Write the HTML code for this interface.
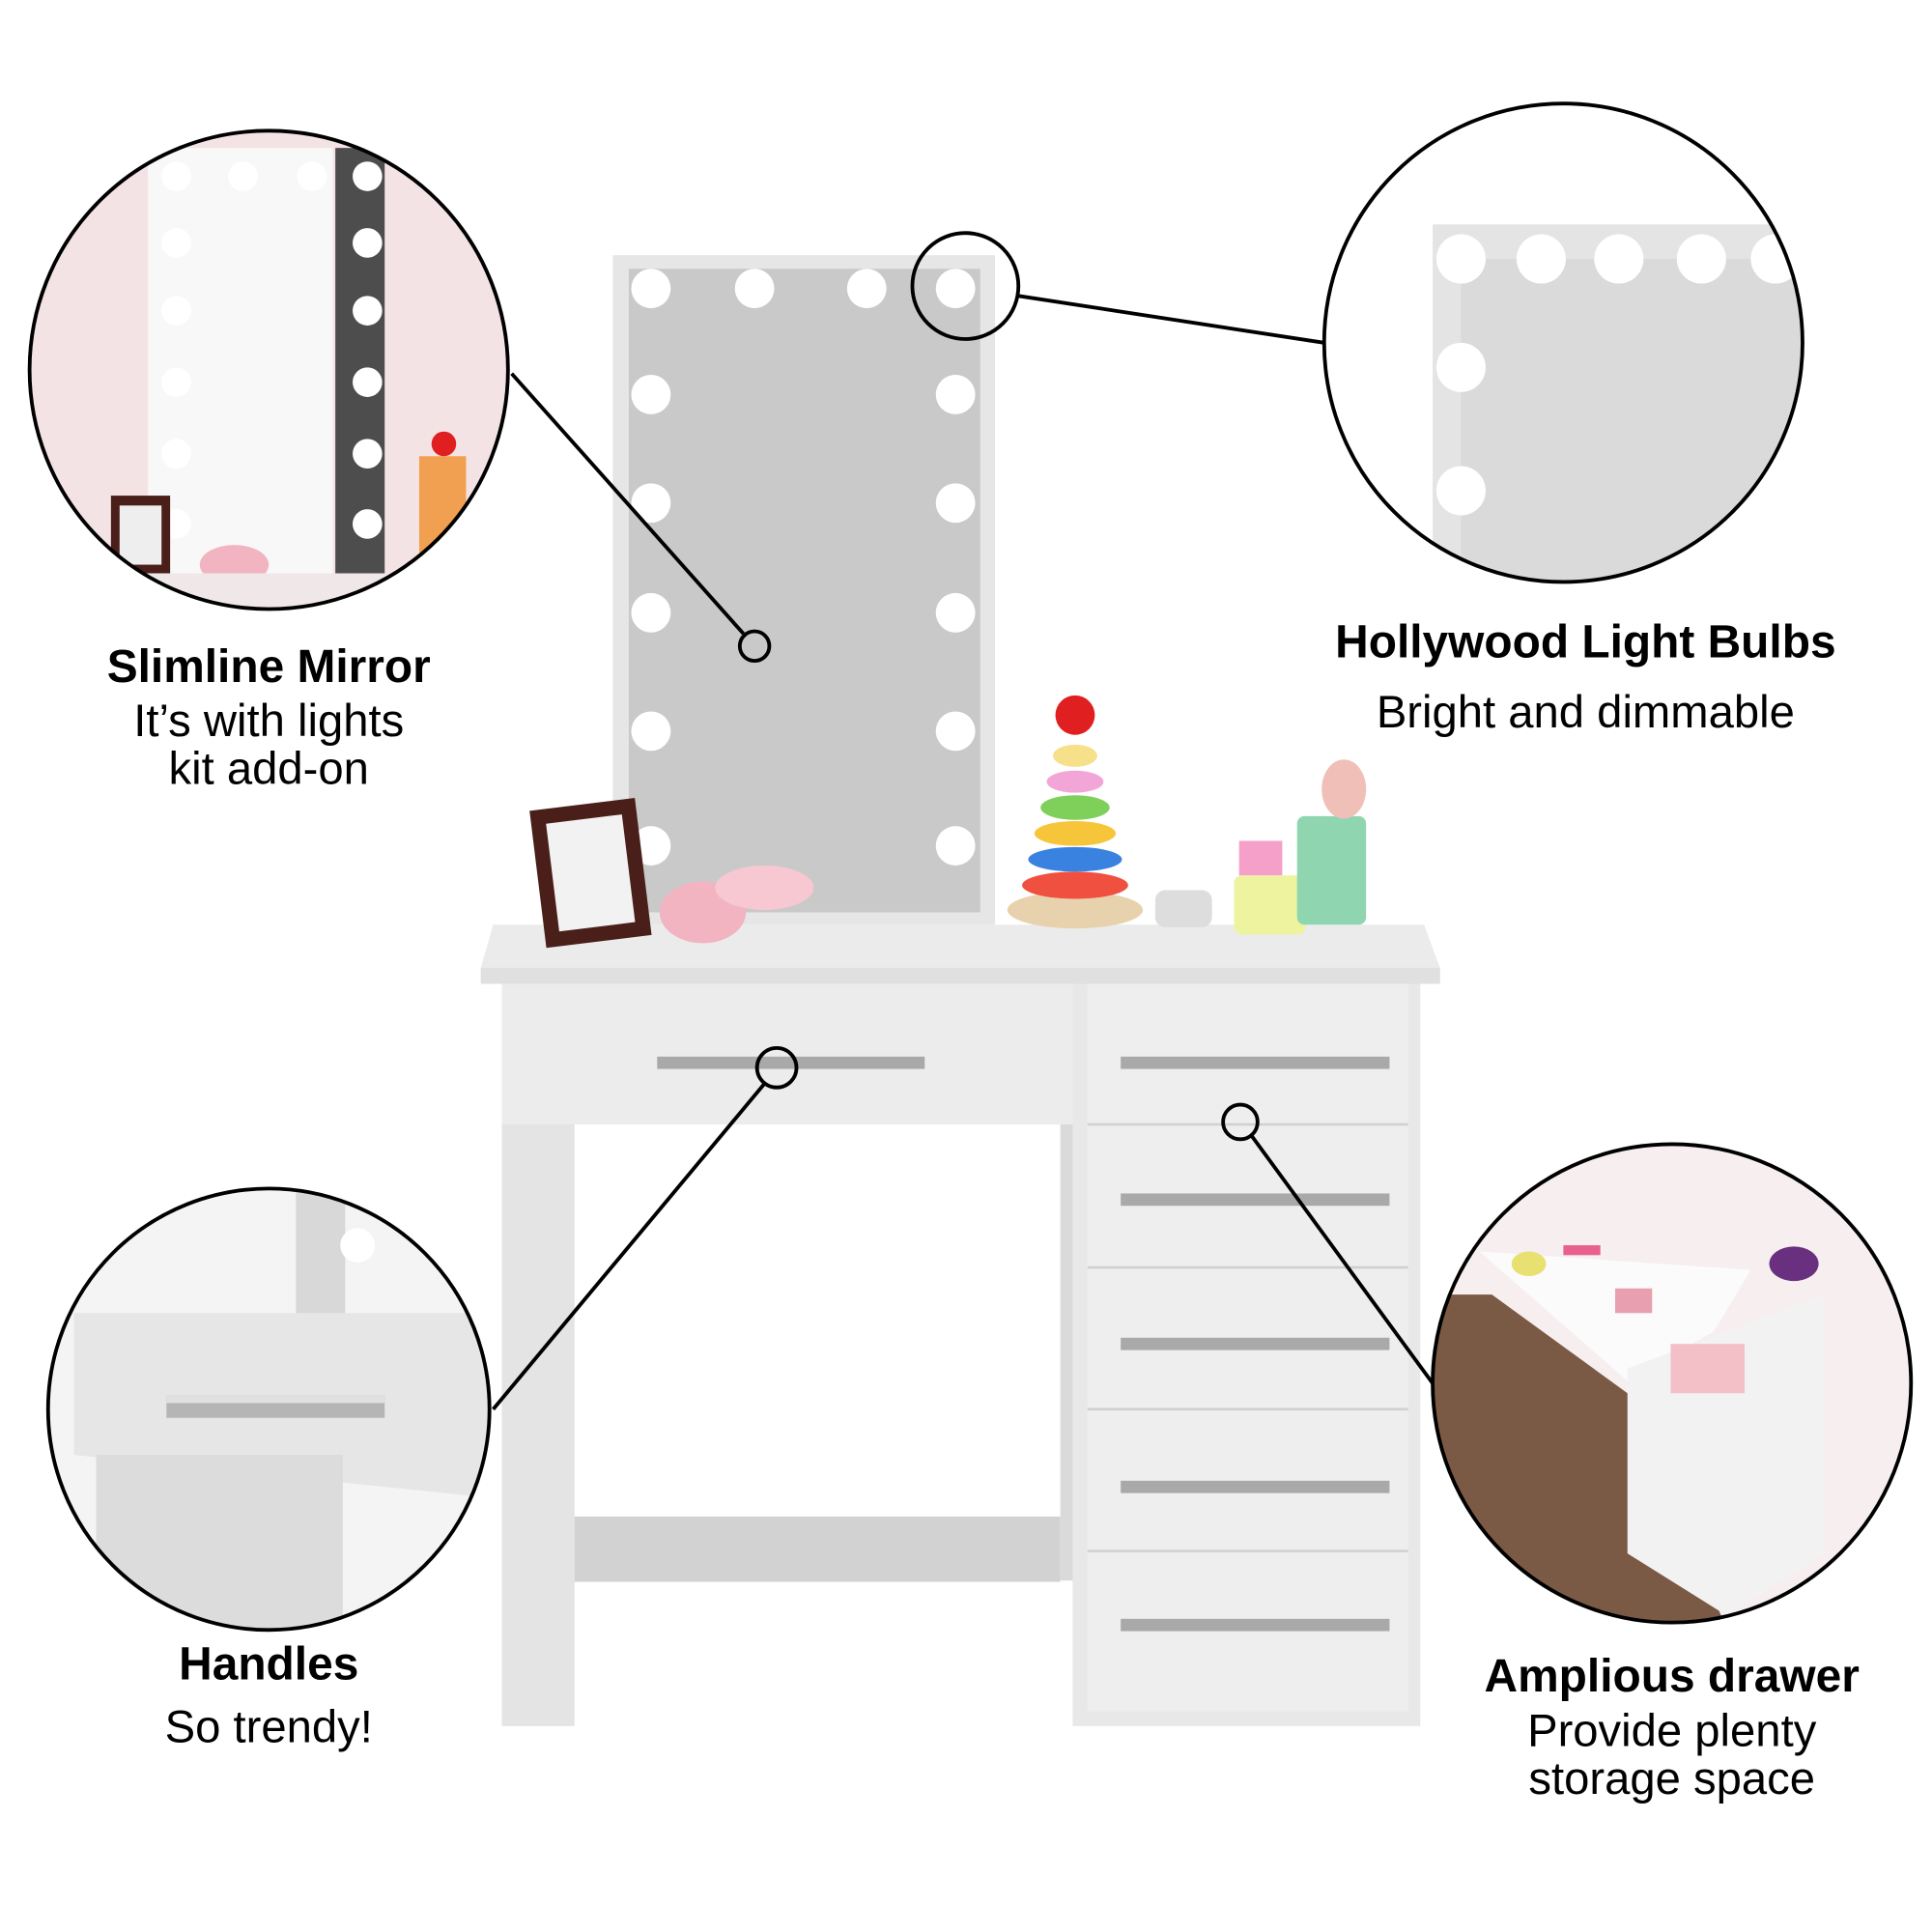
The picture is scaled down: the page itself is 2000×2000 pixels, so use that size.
<!DOCTYPE html>
<html><head><meta charset="utf-8"><style>
html,body{margin:0;padding:0;background:#fff;}
svg{display:block;}
text{font-family:"Liberation Sans",Arial,sans-serif;fill:#000;text-anchor:middle;}
</style></head><body>
<svg width="2000" height="2000" viewBox="0 0 1567 1567" xmlns="http://www.w3.org/2000/svg">
<defs>
<clipPath id="c1"><circle cx="218" cy="300" r="194"/></clipPath>
<clipPath id="c2"><circle cx="1268" cy="278" r="194"/></clipPath>
<clipPath id="c3"><circle cx="218" cy="1143" r="179"/></clipPath>
<clipPath id="c4"><circle cx="1356" cy="1122" r="194"/></clipPath>
</defs>
<rect width="1567" height="1567" fill="#fff"/>
<!-- mirror -->
<rect x="497" y="207" width="310" height="543" fill="#e6e6e6"/>
<rect x="510" y="218" width="285" height="522" fill="#c9c9c9"/>
<g fill="#fff">
<circle cx="528" cy="234" r="16"/><circle cx="612" cy="234" r="16"/><circle cx="703" cy="234" r="16"/><circle cx="775" cy="234" r="16"/>
<circle cx="528" cy="320" r="16"/><circle cx="775" cy="320" r="16"/>
<circle cx="528" cy="408" r="16"/><circle cx="775" cy="408" r="16"/>
<circle cx="528" cy="497" r="16"/><circle cx="775" cy="497" r="16"/>
<circle cx="528" cy="593" r="16"/><circle cx="775" cy="593" r="16"/>
<circle cx="528" cy="686" r="16"/><circle cx="775" cy="686" r="16"/>
</g>
<!-- desk -->
<polygon points="400,750 1155,750 1168,785 1168,798 390,798 390,785" fill="#ebebeb"/>
<rect x="390" y="785" width="778" height="13" fill="#e0e0e0"/>
<rect x="407" y="798" width="463" height="114" fill="#ececec"/>
<rect x="533" y="857" width="217" height="10" fill="#a9a9a9"/>
<rect x="407" y="912" width="59" height="488" fill="#e4e4e4"/>
<rect x="466" y="1230" width="394" height="53" fill="#d2d2d2"/>
<rect x="860" y="912" width="12" height="370" fill="#dadada"/>
<rect x="870" y="798" width="282" height="602" fill="#e8e8e8"/>
<rect x="882" y="798" width="260" height="590" fill="#eeeeee"/>
<g stroke="#d0d0d0" stroke-width="2"><line x1="882" y1="912" x2="1142" y2="912"/><line x1="882" y1="1028" x2="1142" y2="1028"/><line x1="882" y1="1143" x2="1142" y2="1143"/><line x1="882" y1="1258" x2="1142" y2="1258"/></g>
<g fill="#a9a9a9"><rect x="909" y="857" width="218" height="10"/><rect x="909" y="968" width="218" height="10"/><rect x="909" y="1085" width="218" height="10"/><rect x="909" y="1201" width="218" height="10"/><rect x="909" y="1313" width="218" height="10"/></g>
<!-- desk items -->
<rect x="436" y="652" width="86" height="112" fill="#4a1f1a" transform="rotate(-7 479 708)"/>
<rect x="448" y="664" width="62" height="88" fill="#f2f2f2" transform="rotate(-7 479 708)"/>
<ellipse cx="570" cy="740" rx="35" ry="25" fill="#f2b4c0"/><ellipse cx="620" cy="720" rx="40" ry="18" fill="#f7c8d2"/>
<ellipse cx="872" cy="738" rx="55" ry="15" fill="#e8d2ae"/>
<ellipse cx="872" cy="718" rx="43" ry="11" fill="#f05040"/><ellipse cx="872" cy="697" rx="38" ry="10" fill="#3a82e0"/>
<ellipse cx="872" cy="676" rx="33" ry="10" fill="#f7c53a"/><ellipse cx="872" cy="655" rx="28" ry="10" fill="#7fd05a"/>
<ellipse cx="872" cy="634" rx="23" ry="9" fill="#f2a6d8"/><ellipse cx="872" cy="613" rx="18" ry="9" fill="#f7e08a"/>
<circle cx="872" cy="580" r="16" fill="#e02020"/>
<rect x="937" y="722" width="46" height="30" rx="8" fill="#ddd"/>
<rect x="1001" y="710" width="58" height="48" rx="6" fill="#eef3a0"/><rect x="1005" y="682" width="35" height="28" fill="#f5a0c8"/>
<rect x="1052" y="662" width="56" height="88" rx="6" fill="#8fd6b0"/><ellipse cx="1090" cy="640" rx="18" ry="24" fill="#f0c0b8"/>
<!-- circle 1 -->
<g clip-path="url(#c1)"><rect x="0" y="100" width="420" height="420" fill="#f4e3e5"/>
<rect x="120" y="120" width="150" height="360" fill="#f8f8f8"/>
<rect x="272" y="120" width="40" height="350" fill="#4d4d4d"/>
<g fill="#fff"><circle cx="143" cy="143" r="12"/><circle cx="143" cy="197" r="12"/><circle cx="143" cy="252" r="12"/><circle cx="143" cy="310" r="12"/><circle cx="143" cy="368" r="12"/><circle cx="143" cy="425" r="12"/><circle cx="197" cy="143" r="12"/><circle cx="253" cy="143" r="12"/>
<circle cx="298" cy="143" r="12"/><circle cx="298" cy="197" r="12"/><circle cx="298" cy="252" r="12"/><circle cx="298" cy="310" r="12"/><circle cx="298" cy="368" r="12"/><circle cx="298" cy="425" r="12"/></g>
<rect x="90" y="402" width="48" height="64" fill="#4a1f1a"/><rect x="97" y="410" width="34" height="48" fill="#eee"/>
<ellipse cx="190" cy="458" rx="28" ry="16" fill="#f2b4c0"/>
<rect x="340" y="370" width="38" height="90" fill="#f0a050"/><circle cx="360" cy="360" r="10" fill="#e02020"/>
<rect x="0" y="465" width="420" height="60" fill="#f0e8e8"/></g>
<circle cx="218" cy="300" r="194" fill="none" stroke="#000" stroke-width="3"/>
<!-- circle 2 -->
<g clip-path="url(#c2)"><rect x="1060" y="70" width="420" height="420" fill="#fff"/>
<rect x="1162" y="182" width="330" height="320" fill="#e4e4e4"/>
<rect x="1185" y="210" width="300" height="290" fill="#dadada"/>
<g fill="#fff"><circle cx="1185" cy="210" r="20"/><circle cx="1250" cy="210" r="20"/><circle cx="1313" cy="210" r="20"/><circle cx="1380" cy="210" r="20"/><circle cx="1440" cy="210" r="20"/><circle cx="1185" cy="298" r="20"/><circle cx="1185" cy="398" r="20"/></g></g>
<circle cx="1268" cy="278" r="194" fill="none" stroke="#000" stroke-width="3"/>
<!-- circle 3 -->
<g clip-path="url(#c3)"><rect x="30" y="955" width="380" height="380" fill="#f4f4f4"/>
<rect x="240" y="960" width="40" height="110" fill="#d8d8d8"/><circle cx="290" cy="1010" r="14" fill="#fff"/>
<polygon points="60,1065 380,1065 400,1080 400,1215 60,1180" fill="#e6e6e6"/>
<rect x="135" y="1132" width="177" height="18" fill="#b5b5b5"/><rect x="135" y="1132" width="177" height="6" fill="#e0e0e0"/>
<rect x="78" y="1180" width="200" height="160" fill="#dcdcdc"/></g>
<circle cx="218" cy="1143" r="179" fill="none" stroke="#000" stroke-width="3"/>
<!-- circle 4 -->
<g clip-path="url(#c4)"><rect x="1160" y="925" width="400" height="400" fill="#f7eef0"/>
<polygon points="1160,1050 1210,1050 1320,1130 1400,1320 1160,1330" fill="#7a5a44"/>
<polygon points="1200,1015 1420,1030 1390,1080 1320,1120" fill="#fbfbfb"/>
<polygon points="1320,1110 1480,1050 1480,1260 1400,1310 1320,1260" fill="#f2f2f2"/>
<rect x="1355" y="1090" width="60" height="40" fill="#f4c0c8"/>
<ellipse cx="1240" cy="1025" rx="14" ry="10" fill="#e8e070"/><rect x="1310" y="1045" width="30" height="20" fill="#e8a0b0"/>
<rect x="1268" y="1010" width="30" height="8" fill="#e86090"/>
<ellipse cx="1455" cy="1025" rx="20" ry="14" fill="#6a3080"/></g>
<circle cx="1356" cy="1122" r="194" fill="none" stroke="#000" stroke-width="3"/>
<!-- callouts -->
<g stroke="#000" stroke-width="3" fill="none">
<circle cx="783" cy="232" r="43"/><circle cx="612" cy="524" r="12"/><circle cx="630" cy="866" r="16"/><circle cx="1006" cy="910" r="14"/>
<line x1="415" y1="303" x2="603" y2="514"/><line x1="826" y1="240" x2="1074" y2="278"/>
<line x1="400" y1="1143" x2="620" y2="879"/><line x1="1015" y1="921" x2="1162" y2="1122"/>
</g>
<!-- labels -->
<text x="218" y="553" font-size="37.5" font-weight="bold">Slimline Mirror</text>
<text x="218" y="597" font-size="37">It’s with lights</text>
<text x="218" y="636" font-size="37">kit add-on</text>
<text x="1286" y="533" font-size="37.5" font-weight="bold">Hollywood Light Bulbs</text>
<text x="1286" y="590" font-size="37">Bright and dimmable</text>
<text x="218" y="1362" font-size="37.5" font-weight="bold">Handles</text>
<text x="218" y="1413" font-size="37">So trendy!</text>
<text x="1356" y="1372" font-size="37.5" font-weight="bold">Amplious drawer</text>
<text x="1356" y="1416" font-size="37">Provide plenty</text>
<text x="1356" y="1455" font-size="37">storage space</text>
</svg>
</body></html>
